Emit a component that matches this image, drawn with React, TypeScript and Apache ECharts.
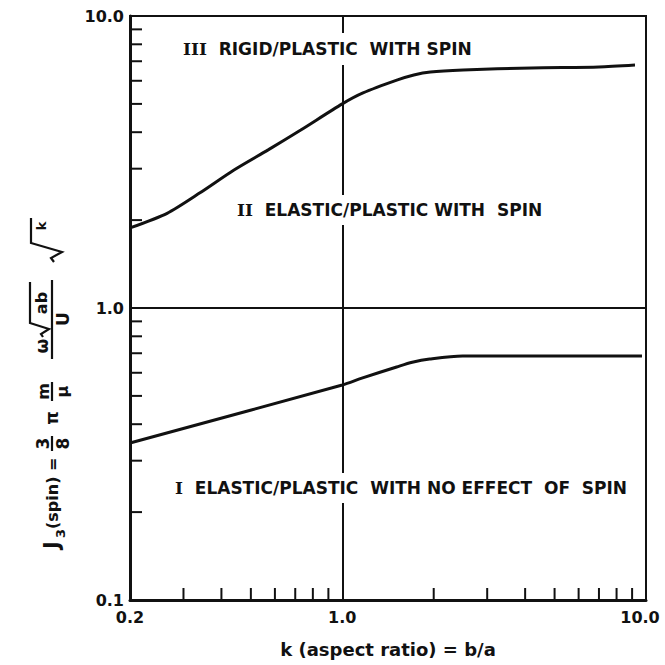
import { useEffect, useRef } from "react";
import * as echarts from "echarts";

// Boundary between regime III (rigid/plastic) and regime II (elastic/plastic with spin)
const K_UPPER = [0.2, 0.265, 0.34, 0.44, 0.57, 0.73, 1.0, 1.17, 1.52, 1.72, 1.95, 2.5, 4.2, 7.0, 9.2];
const J_UPPER = [1.88, 2.11, 2.48, 2.97, 3.48, 4.07, 5.0, 5.45, 6.04, 6.28, 6.43, 6.53, 6.64, 6.69, 6.79];

// Boundary between regime II and regime I (no effect of spin)
const K_LOWER = [0.2, 1.0, 1.16, 1.51, 1.7, 1.94, 2.49, 9.7];
const J_LOWER = [0.345, 0.545, 0.575, 0.628, 0.652, 0.669, 0.685, 0.685];

// Axis ranges and the intermediate (minor) tick values of the log scales
const X_RANGE = [0.2, 10];
const Y_RANGE = [0.1, 10];
const X_MINOR = [0.3, 0.4, 0.5, 0.6, 0.7, 0.8, 0.9, 2, 3, 4, 5, 6, 7, 8, 9];
const Y_MINOR = [0.2, 0.3, 0.4, 0.5, 0.6, 0.7, 0.8, 0.9, 2, 3, 4, 5, 6, 7, 8, 9];

// Region captions: roman numeral + description
const REGION_NUMERALS = ["III", "II", "I"];
const REGION_TEXTS = [
  "RIGID/PLASTIC  WITH SPIN",
  "ELASTIC/PLASTIC WITH  SPIN",
  "ELASTIC/PLASTIC  WITH NO EFFECT  OF  SPIN",
];

const X_TITLE = "k (aspect ratio) = b/a";

const INK = "#111";
const SANS = "DejaVu Sans";
const SERIF = "DejaVu Serif";

const fmt = (v: number) => v.toFixed(1);

function buildOption() {
  const upper = K_UPPER.map((k, i) => [k, J_UPPER[i]]);
  const lower = K_LOWER.map((k, i) => [k, J_LOWER[i]]);
  const tickData = [
    ...X_MINOR.map((v) => [v, Y_RANGE[0], 0]),
    ...Y_MINOR.map((v) => [X_RANGE[0], v, 1]),
  ];

  const captionPos = [
    { x: 179, y: 49, pad: [7, 4, 8, 4] },
    { x: 233, y: 210, pad: [6, 4, 7, 4] },
    { x: 171, y: 488, pad: [6, 4, 7, 4] },
  ];
  const captions = REGION_TEXTS.map((t, i) => ({
    type: "text",
    x: captionPos[i].x,
    y: captionPos[i].y,
    z: 1,
    style: {
      text: `{n|${REGION_NUMERALS[i]}}  ${t}`,
      rich: {
        n: { fontFamily: SERIF, fontWeight: "bold", fontSize: 17, fill: INK },
      },
      fontFamily: SANS,
      fontWeight: "bold",
      fontSize: 17,
      fill: INK,
      verticalAlign: "middle",
      align: "left",
      backgroundColor: "#fff",
      padding: captionPos[i].pad,
    },
  }));

  const tf = (size: number) => ({ fontFamily: SANS, fontWeight: "bold", fontSize: size, fill: INK });
  const txt = (text: string, x: number, y: number, size: number, align = "center", va = "middle") => ({
    type: "text",
    x,
    y,
    style: { ...tf(size), text, align, verticalAlign: va },
  });
  const bar = (u1: number, u2: number, v = 0) => ({
    type: "line",
    shape: { x1: u1, y1: v, x2: u2, y2: v },
    style: { stroke: INK, lineWidth: 2.2 },
  });
  const radical = (pts: number[][]) => ({
    type: "polyline",
    shape: { points: pts },
    style: { stroke: INK, lineWidth: 2.2, fill: null },
  });

  // Rotated y-axis title: J3(spin) = 3/8 π m/μ ω√ab/U √k
  const yTitle = {
    type: "group",
    x: 52,
    y: 549,
    rotation: Math.PI / 2,
    z: 10,
    children: [
      txt("J", 0, 0, 21, "left"),
      txt("3", 11, 8, 13, "left"),
      txt("(spin) =", 20, 0, 16, "left"),
      bar(98, 113),
      txt("3", 105.5, -1, 17, "center", "bottom"),
      txt("8", 105.5, 2, 17, "center", "top"),
      txt("π", 131, 0, 17),
      bar(148, 167),
      txt("m", 157.5, -1, 16, "center", "bottom"),
      txt("μ", 157.5, 2, 16, "center", "top"),
      bar(190, 269),
      txt("ω", 203, -2, 17, "center", "bottom"),
      radical([
        [212, -9],
        [215, -11],
        [220, -3],
        [226, -22],
        [267, -22],
      ]),
      txt("ab", 246, -3, 16, "center", "bottom"),
      txt("U", 230, 2, 17, "center", "top"),
      radical([
        [287, 2],
        [291, -1],
        [297, 10],
        [306, -21],
        [331, -21],
      ]),
      txt("k", 323, -4, 13, "center", "bottom"),
    ],
  };

  return {
    animation: false,
    backgroundColor: "#fff",
    grid: {
      left: 130,
      right: 19,
      top: 16,
      bottom: 65,
      show: true,
      borderColor: INK,
      borderWidth: 2,
      containLabel: false,
      outerBoundsMode: "none",
    },
    xAxis: {
      type: "log",
      logBase: 10,
      min: X_RANGE[0],
      max: X_RANGE[1],
      axisLine: { show: true, lineStyle: { color: INK, width: 3 } },
      axisTick: { show: false },
      splitLine: { show: true, lineStyle: { color: INK, width: 2 } },
      minorTick: { show: false },
      minorSplitLine: { show: false },
      axisLabel: {
        color: INK,
        fontFamily: SANS,
        fontWeight: "bold",
        fontSize: 16,
        margin: 9,
        formatter: (v: number) => (v >= 10 ? `{e|${fmt(v)}}` : fmt(v)),
        rich: {
          e: { color: INK, fontFamily: SANS, fontWeight: "bold", fontSize: 16, padding: [0, 12, 0, 0] },
        },
      },
      name: X_TITLE,
      nameLocation: "middle",
      nameGap: 40,
      nameTextStyle: { color: INK, fontFamily: SANS, fontWeight: "bold", fontSize: 18 },
    },
    yAxis: {
      type: "log",
      logBase: 10,
      min: Y_RANGE[0],
      max: Y_RANGE[1],
      axisLine: { show: true, lineStyle: { color: INK, width: 3 } },
      axisTick: { show: false },
      splitLine: { show: true, lineStyle: { color: INK, width: 2 } },
      minorTick: { show: false },
      minorSplitLine: { show: false },
      axisLabel: {
        color: INK,
        fontFamily: SANS,
        fontWeight: "bold",
        fontSize: 16,
        margin: 6,
        formatter: fmt,
      },
    },
    series: [
      {
        type: "custom",
        clip: false,
        silent: true,
        z: 3,
        encode: { x: 0, y: 1 },
        data: tickData,
        renderItem: (_params: any, api: any) => {
          const p = api.coord([api.value(0), api.value(1)]);
          const kind = api.value(2);
          const len = 12;
          const shape =
            kind === 0
              ? { x1: p[0], y1: p[1], x2: p[0], y2: p[1] - len }
              : { x1: p[0], y1: p[1], x2: p[0] + len, y2: p[1] };
          return { type: "line", shape, style: { stroke: INK, lineWidth: 2 } };
        },
      },
      {
        type: "line",
        data: upper,
        smooth: 0.25,
        showSymbol: false,
        symbol: "none",
        z: 2,
        lineStyle: { color: INK, width: 3 },
      },
      {
        type: "line",
        data: lower,
        smooth: 0.3,
        showSymbol: false,
        symbol: "none",
        z: 2,
        lineStyle: { color: INK, width: 3 },
      },
    ],
    graphic: { elements: [...captions, yTitle] },
  };
}

export default function App() {
  const ref = useRef<HTMLDivElement>(null);
  useEffect(() => {
    if (!ref.current) return;
    const chart = echarts.init(ref.current, null, { renderer: "svg" });
    chart.setOption(buildOption() as any);
    return () => chart.dispose();
  }, []);
  return (
    <div
      ref={ref}
      style={{ position: "fixed", left: 0, top: 0, width: 665, height: 665, background: "#fff" }}
    />
  );
}
